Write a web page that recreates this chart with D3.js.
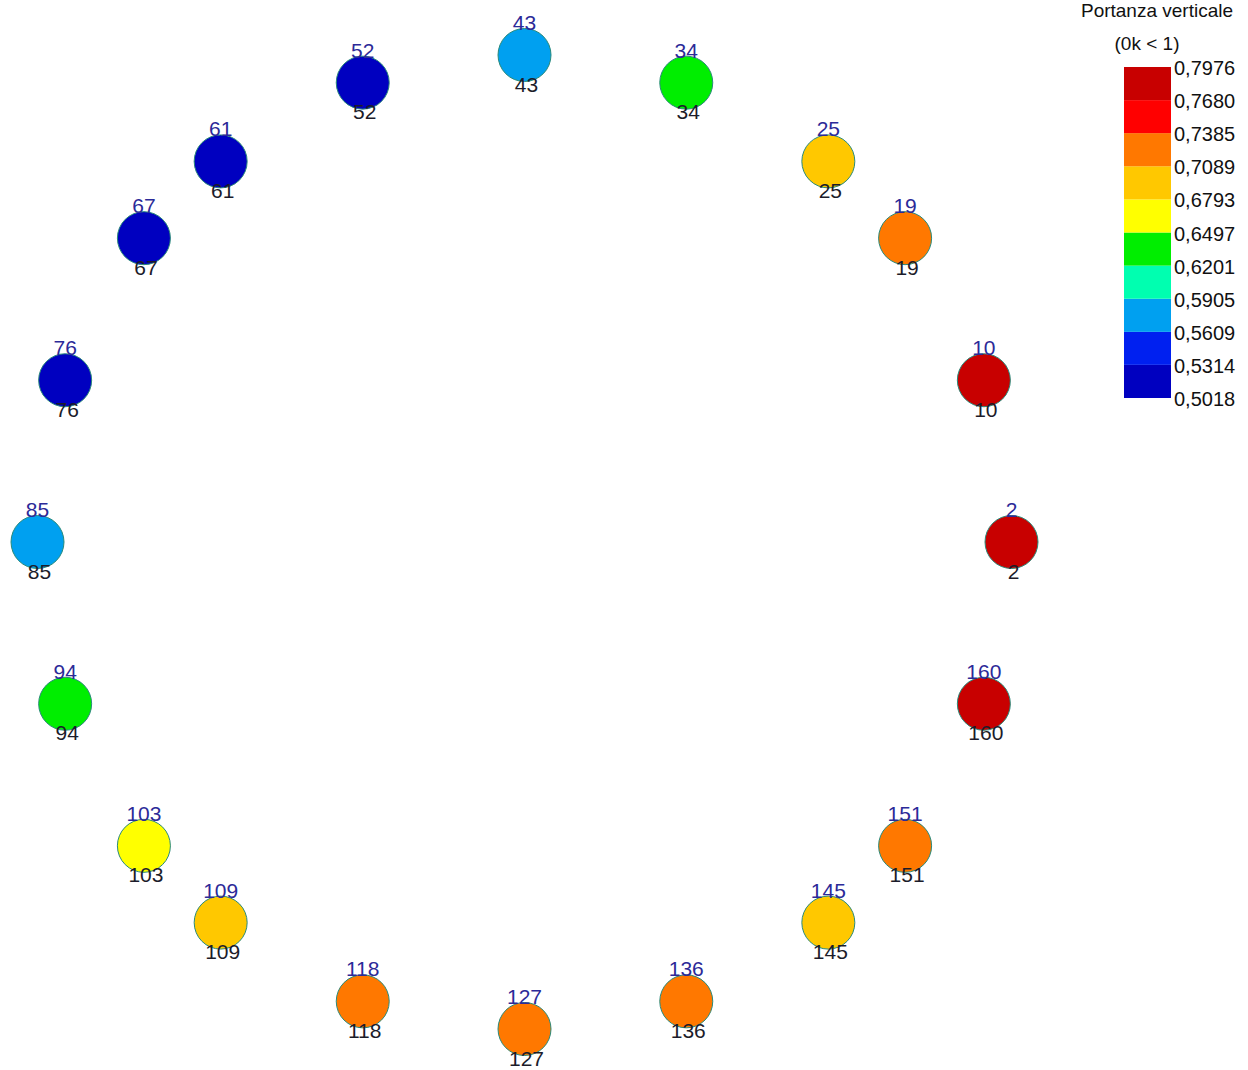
<!DOCTYPE html>
<html>
<head>
<meta charset="utf-8">
<script src="https://d3js.org/d3.v7.min.js"></script>
<style>
  body { margin: 0; background: #fff; }
  text { font-family: "Liberation Sans", Arial, sans-serif; }
</style>
</head>
<body>
<script>
// node ids, their angle on the ring (degrees, counter-clockwise from right) and value
const nodeIds = [2, 10, 19, 25, 34, 43, 52, 61, 67, 76, 85, 94, 103, 109, 118, 127, 136, 145, 151, 160];
const nodeAngles = [0, 19.4, 38.6, 51.4, 70.6, 90, 109.4, 128.6, 141.4, 160.6, 180, 199.4, 218.6, 231.4, 250.6, 270, 289.4, 308.6, 321.4, 340.6];
const nodeValues = [0.7976, 0.785, 0.725, 0.695, 0.635, 0.575, 0.51, 0.505, 0.505, 0.51,
                    0.575, 0.635, 0.665, 0.695, 0.72, 0.72, 0.72, 0.695, 0.72, 0.785];

// legend
const legendTitle = ['Portanza verticale', '(0k < 1)'];
const legendTicks = [0.5018, 0.5314, 0.5609, 0.5905, 0.6201, 0.6497, 0.6793, 0.7089, 0.7385, 0.7680, 0.7976];
const legendColors = ['#0000c0', '#0020f0', '#00a0f0', '#00ffb0', '#00ee00',
                      '#ffff00', '#ffc800', '#ff7800', '#ff0000', '#c80000'];

const width = 1248, height = 1070;

const svg = d3.select('body').append('svg')
  .attr('width', width)
  .attr('height', height);

// ring layout
const ringCx = 524.5, ringCy = 542, ringR = 487, nodeR = 26.5;

const x = d3.scaleLinear().domain([-1, 1]).range([ringCx - ringR, ringCx + ringR]);
const y = d3.scaleLinear().domain([-1, 1]).range([ringCy + ringR, ringCy - ringR]);

const colour = d3.scaleQuantize()
  .domain([legendTicks[0], legendTicks[legendTicks.length - 1]])
  .range(legendColors);

const nodes = nodeIds.map((id, i) => {
  const a = nodeAngles[i] * Math.PI / 180;
  return {id, value: nodeValues[i], cx: x(Math.cos(a)), cy: y(Math.sin(a))};
});

const node = svg.append('g').attr('class', 'nodes')
  .selectAll('g')
  .data(nodes)
  .enter().append('g')
    .attr('transform', d => `translate(${d.cx}, ${d.cy})`);

node.append('circle')
  .attr('r', nodeR)
  .attr('fill', d => colour(d.value))
  .attr('stroke', '#2a8a7a')
  .attr('stroke-width', 1);

// id above (blue) and below (black) each node
node.append('text')
  .attr('text-anchor', 'middle')
  .attr('x', 0)
  .attr('y', -nodeR + 1.5)
  .attr('font-size', '21px')
  .attr('fill', '#2c2a98')
  .text(d => d.id);

node.append('text')
  .attr('text-anchor', 'middle')
  .attr('x', 2)
  .attr('y', nodeR + 10)
  .attr('font-size', '21px')
  .attr('fill', '#1c1c2a')
  .text(d => d.id);

// colour bar legend
const legendX = 1124, legendW = 47;
const ly = d3.scaleLinear()
  .domain([legendTicks[0], legendTicks[legendTicks.length - 1]])
  .range([398, 67]);

const legend = svg.append('g').attr('class', 'legend');

legend.selectAll('rect')
  .data(legendColors)
  .enter().append('rect')
    .attr('x', legendX)
    .attr('y', (d, i) => ly(legendTicks[i + 1]))
    .attr('width', legendW)
    .attr('height', (d, i) => ly(legendTicks[i]) - ly(legendTicks[i + 1]))
    .attr('fill', d => d);

legend.selectAll('text.tick')
  .data(legendTicks)
  .enter().append('text')
    .attr('class', 'tick')
    .attr('x', legendX + legendW + 3)
    .attr('y', d => ly(d) + 8)
    .attr('font-size', '20px')
    .attr('fill', '#111')
    .text(d => d.toFixed(4).replace('.', ','));

legend.selectAll('text.title')
  .data(legendTitle)
  .enter().append('text')
    .attr('class', 'title')
    .attr('text-anchor', 'middle')
    .attr('x', (d, i) => i === 0 ? 1157 : 1147)
    .attr('y', (d, i) => 17 + i * 33)
    .attr('font-size', '19px')
    .attr('fill', '#111')
    .text(d => d);
</script>
</body>
</html>
